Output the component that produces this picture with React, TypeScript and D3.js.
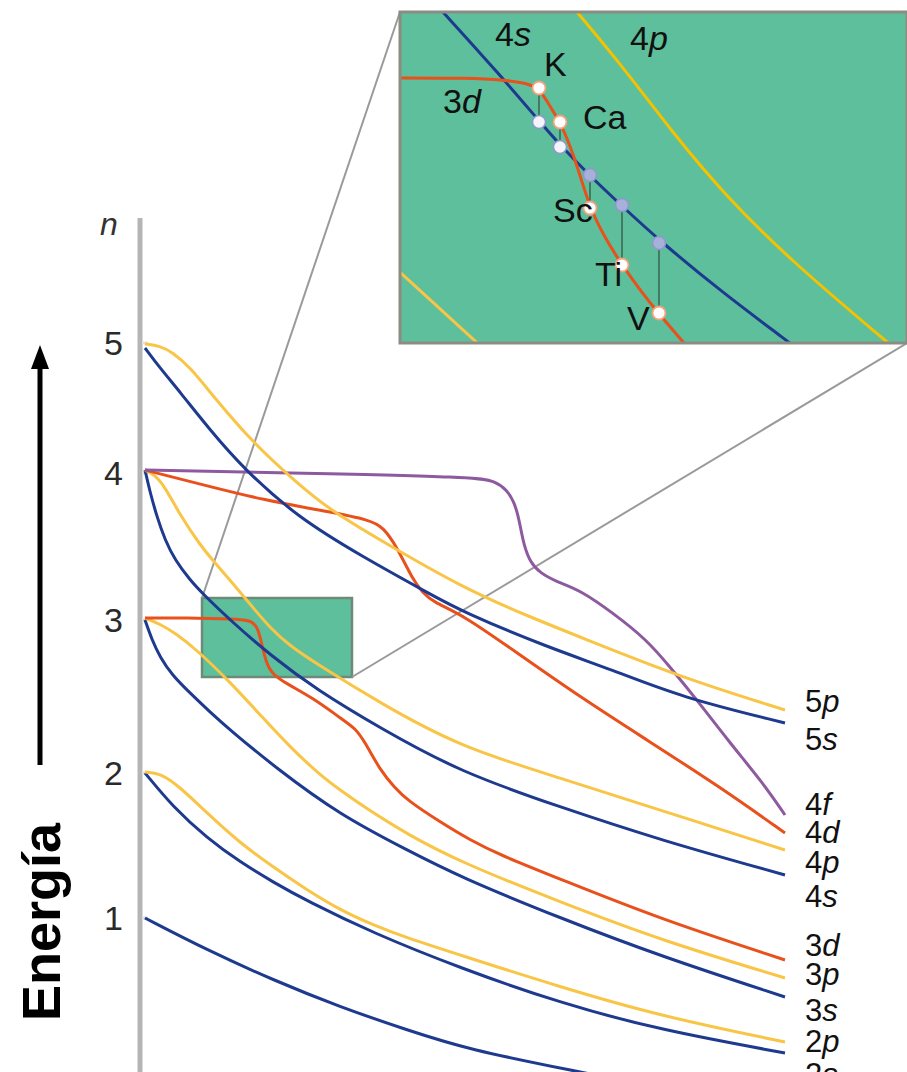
import React from 'react';
import * as d3 from 'd3';

const W = 907;
const H = 1072;

// ---- main chart data: [atomic-number axis units, energy units] ----
const orb1s = [[0,15.4],[6.2,12.2],[12.8,9.2],[19.5,6.5],[26.2,4.2],[32.5,2.2],[42.5,0.2],[53.5,-2.0],[64,-3.8]];
const orb2s = [[0,29.9],[2.8,26.5],[6.2,23.4],[9.5,21.0],[12.8,19.0],[16.2,17.1],[22.8,13.9],[31.5,10.4],[41.5,6.9],[51.5,4.2],[64,1.9]];
const orb2p = [[0,30.0],[1.5,29.9],[3.5,28.5],[6.2,25.9],[9.5,22.9],[12.8,20.5],[16.2,18.2],[19.5,16.2],[22.8,14.7],[26.2,13.4],[31.5,11.7],[41.5,8.5],[51.5,5.6],[64,3.0]];
const orb3s = [[0,45.2],[0.7,43.2],[1.5,41.5],[2.7,39.7],[4.5,37.9],[6.5,36.0],[8.5,34.2],[13.1,30.4],[19.5,25.7],[26.2,22.2],[31.5,19.5],[41.5,15.4],[51.5,11.6],[64,7.5]];
const orb3p = [[0,45.4],[1.5,44.8],[3.0,43.9],[5.2,42.2],[8.5,39.0],[11.8,35.4],[14.5,32.5],[17.5,29.7],[19.5,28.2],[22.5,26.1],[26.2,23.8],[31.5,21.0],[41.5,17.0],[51.5,13.2],[64,9.4]];
const orb3d = [[0,45.4],[5.5,45.4],[9.5,45.3],[10.7,45.1],[11.3,44.4],[11.7,42.7],[12.1,41.0],[12.7,39.8],[14.2,38.8],[16.8,37.4],[19.8,35.2],[21.0,34.4],[22.0,33.0],[23.5,30.2],[25.0,28.4],[26.2,27.2],[29.5,25.0],[32.5,23.2],[35.5,21.7],[41.5,19.3],[51.5,15.3],[64,11.2]];
const orb4s = [[0,60.2],[0.5,58.0],[1.2,55.5],[2.0,53.2],[3.0,51.2],[4.5,49.2],[5.8,47.8],[8.5,45.2],[12.5,41.7],[17.2,38.2],[23.5,34.4],[31.5,30.0],[41.5,26.5],[51.5,23.2],[64,19.7]];
const orb4p = [[0,60.2],[1.0,59.7],[2.0,58.5],[3.5,55.7],[5.5,52.7],[7.0,50.9],[8.5,49.2],[10.5,46.8],[12.5,44.4],[14.5,42.6],[17.2,40.8],[23.5,36.9],[31.5,32.5],[41.5,29.4],[51.5,26.2],[64,22.2]];
const orb4d = [[0,60.2],[5.5,58.8],[11.8,57.2],[18.5,56.0],[22.5,55.2],[23.8,54.5],[25.2,52.5],[26.8,49.2],[27.8,47.9],[28.8,47.0],[31.8,45.7],[36.8,42.2],[43.5,37.5],[50.2,33.2],[57.5,28.5],[64,23.9]];
const orb4f = [[0,60.2],[15.5,59.9],[33.0,59.5],[35.0,59.1],[36.2,58.2],[36.9,57.0],[37.3,55.7],[37.6,54.2],[37.9,52.7],[38.5,51.0],[39.5,49.9],[41.2,49.0],[43.5,48.2],[46.8,45.9],[50.2,43.2],[52.5,40.5],[55.2,37.2],[58.5,32.9],[61.8,28.9],[64,25.7]];
const orb5s = [[0,72.4],[1.5,70.4],[3.5,68.0],[6.5,64.2],[9.8,60.4],[15.2,55.5],[21.8,51.5],[28.5,47.8],[31.8,46.0],[40.2,42.5],[46.8,40.2],[53.5,37.5],[64,34.9]];
const orb5p = [[0,72.8],[1.5,72.6],[2.7,72.0],[4.5,70.5],[6.8,67.6],[10.8,62.9],[15.2,58.9],[18.5,56.2],[23.5,53.2],[31.8,48.4],[38.5,45.5],[43.5,43.5],[53.5,39.5],[64,36.2]];

// shell-level tick labels (n) and their energies
const levelLabels = ['1', '2', '3', '4', '5'];
const levelEnergies = [15.4, 29.9, 45.2, 59.9, 72.9];

// right-hand orbital labels: [number, letter, energy of baseline]
const orbitalLabels: [string, string, number][] = [
  ['5', 'p', 36.0], ['5', 's', 32.2], ['4', 'f', 25.7], ['4', 'd', 22.9], ['4', 'p', 19.9], ['4', 's', 16.5],
  ['3', 'd', 11.6], ['3', 'p', 8.7], ['3', 's', 5.1], ['2', 'p', 2.0], ['2', 's', -1.3],
];

// zoom window in main units: [Z0, Z1], [E top, E bottom]
const zoomZ = [5.7, 20.7];
const zoomE = [47.4, 39.5];

// ---- inset data (inset units) ----
const in4s = [[3.0,34.5],[4.3,33.1],[10.0,26.8],[14.0,22.1],[16.0,19.8],[19.0,16.7],[22.3,13.6],[26.0,10.2],[32.3,5.0],[39.0,0.0],[40.5,-1.2]];
const in4p = [[16.6,34.4],[17.7,33.1],[22.3,27.6],[27.3,21.0],[32.3,15.0],[39.0,8.3],[48.7,0.1],[50.5,-1.4]];
const in3p = [[-1.0,8.0],[3.8,3.6],[8.5,-0.7]];
const in3d = [[-1.0,26.5],[7.0,26.5],[10.5,26.3],[12.5,26.0],[13.9,25.5],[14.8,24.0],[16.0,22.1],[17.0,19.8],[18.0,16.8],[19.0,13.5],[20.5,10.5],[22.2,7.8],[24.0,5.3],[25.8,3.0],[29.0,-0.7]];
const elements = ['K', 'Ca', 'Sc', 'Ti', 'V'];
const elemU = [13.9, 16.0, 19.0, 22.2, 25.9];
const elem3dV = [25.5, 22.1, 13.5, 7.8, 3.0];
const elem4sV = [22.1, 19.6, 16.8, 13.8, 10.0];
const elemFilled = [false, false, true, true, true];
// inset text labels: [text, italic part, u, v]
const insetLabels: [string, string, number, number][] = [
  ['4', 's', 9.5, 29.7], ['4', 'p', 23.0, 29.3], ['3', 'd', 4.3, 23.0],
  ['K', '', 14.4, 26.7], ['Ca', '', 18.3, 21.4], ['Sc', '', 15.3, 12.1], ['Ti', '', 19.5, 5.7], ['V', '', 22.7, 1.3],
];

const BLUE = '#1d3a8f';
const YELLOW = '#f8c547';
const RED = '#e8501c';
const PURPLE = '#8d5a9f';
const GREEN = '#5dbf9b';
const FONT = 'Liberation Sans, Arial, Helvetica, sans-serif';

const series: [number[][], string][] = [
  [orb1s, BLUE], [orb2s, BLUE], [orb2p, YELLOW], [orb3s, BLUE], [orb3p, YELLOW], [orb3d, RED],
  [orb4s, BLUE], [orb4p, YELLOW], [orb4d, RED], [orb4f, PURPLE], [orb5s, BLUE], [orb5p, YELLOW],
];

export default function App() {
  const x = d3.scaleLinear().domain([0, 64]).range([145, 785]);
  const y = d3.scaleLinear().domain([0, 85]).range([1072, 222]);
  const xi = d3.scaleLinear().domain([0, 50.7]).range([400, 907]);
  const yi = d3.scaleLinear().domain([0, 33.1]).range([343, 12]);

  const line = d3.line<number[]>().x(d => x(d[0])).y(d => y(d[1])).curve(d3.curveBasis);
  const lineI = d3.line<number[]>().x(d => xi(d[0])).y(d => yi(d[1])).curve(d3.curveBasis);

  const rx0 = x(zoomZ[0]), rx1 = x(zoomZ[1]);
  const ry0 = y(zoomE[0]), ry1 = y(zoomE[1]);
  const ix0 = xi(0), ix1 = xi(50.7), iy0 = yi(33.1), iy1 = yi(0);

  return (
    <svg width={W} height={H} style={{ position: 'absolute', left: 0, top: 0, background: '#fff' }} fontFamily={FONT}>
      <defs>
        <clipPath id="insetClip">
          <rect x={ix0} y={iy0} width={ix1 - ix0} height={iy1 - iy0} />
        </clipPath>
      </defs>
      {/* axis */}
      <line x1={140} x2={140} y1={y(85.4)} y2={H} stroke="#b5b5b5" strokeWidth={5} />
      {levelEnergies.map((e, i) => (
        <g key={i}>
          <line x1={142} x2={148} y1={y(e)} y2={y(e)} stroke="#e2e2e2" strokeWidth={3} />
          <text x={123} y={y(e) + 12} textAnchor="end" fontSize={34} fill="#2a2a2a">{levelLabels[i]}</text>
        </g>
      ))}
      <text x={109} y={235} textAnchor="middle" fontSize={32} fontStyle="italic" fill="#333">n</text>

      {/* Energy arrow and label */}
      <line x1={40} x2={40} y1={765} y2={362} stroke="#000" strokeWidth={5} />
      <path d="M40,345 L31,369 L49,369 Z" fill="#000" />
      <text transform="translate(60,922) rotate(-90)" textAnchor="middle" fontSize={54} fontWeight="bold" fill="#000">Energía</text>

      {/* bottom axis title (mostly cut off) */}
      <text x={314} y={1092} fontSize={26} fill="#000">Número atómico</text>

      {/* zoom rectangle */}
      <rect x={rx0} y={ry0} width={rx1 - rx0} height={ry1 - ry0} fill={GREEN} stroke="#6f8a79" strokeWidth={2.5} />
      <line x1={rx0} y1={ry0} x2={ix0} y2={iy0} stroke="#9a9a9a" strokeWidth={2} />
      <line x1={rx1} y1={ry1} x2={ix1} y2={iy1} stroke="#9a9a9a" strokeWidth={2} />

      {/* orbital curves */}
      {series.map(([d, c], i) => (
        <path key={i} d={line(d) || ''} fill="none" stroke={c} strokeWidth={3} />
      ))}

      {/* right labels */}
      {orbitalLabels.map(([n, l, e], i) => (
        <text key={i} x={805} y={y(e)} fontSize={31} fill="#111">
          {n}<tspan fontStyle="italic">{l}</tspan>
        </text>
      ))}

      {/* inset */}
      <rect x={ix0} y={iy0} width={ix1 - ix0} height={iy1 - iy0} fill={GREEN} />
      <g clipPath="url(#insetClip)">
        <path d={lineI(in3p) || ''} fill="none" stroke={YELLOW} strokeWidth={3} />
        <path d={lineI(in4p) || ''} fill="none" stroke="#f5c200" strokeWidth={3} />
        <path d={lineI(in4s) || ''} fill="none" stroke={BLUE} strokeWidth={3} />
        <path d={lineI(in3d) || ''} fill="none" stroke={RED} strokeWidth={3} />
        {elements.map((el, i) => (
          <line key={el} x1={xi(elemU[i])} x2={xi(elemU[i])} y1={yi(elem3dV[i])} y2={yi(elem4sV[i])} stroke="#3e6a55" strokeWidth={1.6} />
        ))}
        {elements.map((el, i) => (
          <g key={el + 'c'}>
            <circle cx={xi(elemU[i])} cy={yi(elem4sV[i])} r={6.5} fill={elemFilled[i] ? '#a7b0d8' : '#f4f5fc'} stroke="#8d99cc" strokeWidth={1.5} />
            <circle cx={xi(elemU[i])} cy={yi(elem3dV[i])} r={6.5} fill="#fff" stroke="#f2a27c" strokeWidth={1.8} />
          </g>
        ))}
        {insetLabels.map(([t, it, u, v], i) => (
          <text key={i} x={xi(u)} y={yi(v)} fontSize={34} fill="#111">
            {t}{it ? <tspan fontStyle="italic">{it}</tspan> : null}
          </text>
        ))}
      </g>
      <rect x={ix0} y={iy0} width={ix1 - ix0} height={iy1 - iy0} fill="none" stroke="#8c8c84" strokeWidth={3} />
    </svg>
  );
}
